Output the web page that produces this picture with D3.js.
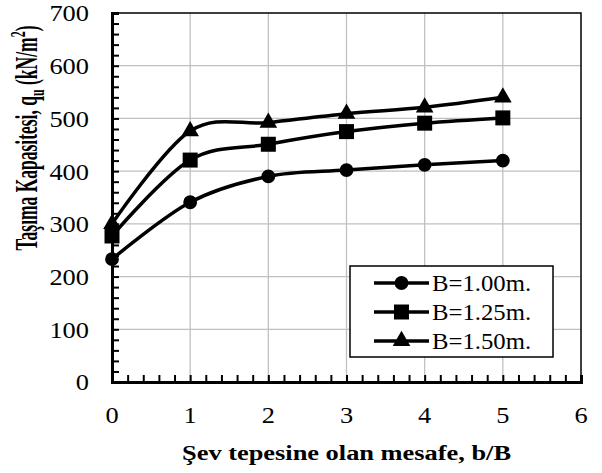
<!DOCTYPE html>
<html>
<head>
<meta charset="utf-8">
<script src="https://cdn.jsdelivr.net/npm/d3@7"></script>
<style>
  body { margin: 0; background: #fff; }
  svg { font-family: "Liberation Serif", "Times New Roman", serif; }
</style>
</head>
<body>
<script>
  // data
  var distances = [0, 1, 2, 3, 4, 5];
  var seriesNames = ["B=1.00m.", "B=1.25m.", "B=1.50m."];
  var b100 = [233, 341, 390, 402, 412, 420];
  var b125 = [277, 421, 451, 475, 491, 501];
  var b150 = [300, 476, 492, 509, 521, 540];
  var xTicks = [0, 1, 2, 3, 4, 5, 6];
  var yTicks = [0, 100, 200, 300, 400, 500, 600, 700];

  var series = [
    { name: seriesNames[0], values: b100, symbol: d3.symbolCircle, size: 150 },
    { name: seriesNames[1], values: b125, symbol: d3.symbolSquare, size: 225 },
    { name: seriesNames[2], values: b150, symbol: d3.symbolTriangle, size: 135 }
  ];

  var width = 602, height = 473;
  var margin = { top: 13, right: 21, bottom: 91, left: 112 };
  var plotW = width - margin.left - margin.right;
  var plotH = height - margin.top - margin.bottom;

  var x = d3.scaleLinear().domain([0, 6]).range([0, plotW]);
  var y = d3.scaleLinear().domain([0, 700]).range([plotH, 0]);

  var svg = d3.select("body").append("svg")
      .attr("width", width)
      .attr("height", height);

  var g = svg.append("g")
      .attr("transform", "translate(" + margin.left + "," + margin.top + ")");

  // gridlines
  g.append("g").selectAll("line").data(xTicks.slice(1, -1)).join("line")
      .attr("x1", d => x(d)).attr("x2", d => x(d))
      .attr("y1", 0).attr("y2", plotH)
      .attr("stroke", "#c0c0c0").attr("stroke-width", 1.3);
  g.append("g").selectAll("line").data(yTicks.slice(1, -1)).join("line")
      .attr("y1", d => y(d)).attr("y2", d => y(d))
      .attr("x1", 0).attr("x2", plotW)
      .attr("stroke", "#c0c0c0").attr("stroke-width", 1.3);

  // frame
  g.append("rect")
      .attr("width", plotW).attr("height", plotH)
      .attr("fill", "none").attr("stroke", "#000").attr("stroke-width", 1.5);

  // axes with inner minor ticks
  var xAxis = g.append("g")
      .attr("transform", "translate(0," + plotH + ")")
      .call(d3.axisTop(x).ticks(30).tickSize(7).tickFormat(""));
  var yAxis = g.append("g")
      .call(d3.axisRight(y).ticks(35).tickSize(7).tickFormat(""));
  [xAxis, yAxis].forEach(function (a) {
    a.select(".domain").attr("stroke-width", 3);
    a.selectAll(".tick line").attr("stroke-width", 2);
  });

  // tick labels (text in the picture is a bit wider than normal)
  g.append("g").selectAll("text").data(xTicks).join("text")
      .attr("transform", d => "translate(" + x(d) + "," + (plotH + 41) + ") scale(1.1,1)")
      .attr("text-anchor", "middle")
      .attr("font-size", 24)
      .text(d => d);
  g.append("g").selectAll("text").data(yTicks).join("text")
      .attr("transform", d => "translate(-23," + y(d) + ") scale(1.1,1)")
      .attr("dy", "0.35em")
      .attr("text-anchor", "end")
      .attr("font-size", 24)
      .text(d => d);

  // axis titles
  svg.append("text")
      .attr("transform", "translate(" + (margin.left + plotW / 2) + ",460) scale(1.2,1)")
      .attr("text-anchor", "middle")
      .attr("font-size", 22).attr("font-weight", "bold")
      .text("Şev tepesine olan mesafe, b/B");

  var yTitle = svg.append("text")
      .attr("transform", "translate(37,138) rotate(-90) scale(1,1.75)")
      .attr("text-anchor", "middle")
      .attr("font-size", 17.5).attr("font-weight", "bold");
  yTitle.append("tspan").text("Taşıma Kapasitesi, q");
  yTitle.append("tspan").attr("font-size", 12).attr("dy", 4).text("u");
  yTitle.append("tspan").attr("dy", -4).text(" (kN/m");
  yTitle.append("tspan").attr("font-size", 12).attr("dy", -7).text("2");
  yTitle.append("tspan").attr("dy", 7).text(")");

  // lines
  var line = d3.line()
      .x((d, i) => x(distances[i]))
      .y(d => y(d))
      .curve(d3.curveCatmullRom.alpha(0));

  g.append("g").selectAll("path").data(series).join("path")
      .attr("d", d => line(d.values))
      .attr("fill", "none")
      .attr("stroke", "#000")
      .attr("stroke-width", 3.5);

  series.forEach(function (s) {
    g.append("g").selectAll("path").data(s.values).join("path")
        .attr("transform", (d, i) => "translate(" + x(distances[i]) + "," + y(d) + ")")
        .attr("d", d3.symbol().type(s.symbol).size(s.size))
        .attr("fill", "#000");
  });

  // legend
  var legend = svg.append("g").attr("transform", "translate(350,266)");
  legend.append("rect")
      .attr("width", 203).attr("height", 91)
      .attr("fill", "#fff").attr("stroke", "#000").attr("stroke-width", 1.5);
  var rows = legend.selectAll("g.row").data(series).join("g")
      .attr("class", "row")
      .attr("transform", (d, i) => "translate(0," + (17 + i * 29) + ")");
  rows.append("line")
      .attr("x1", 24).attr("x2", 79)
      .attr("stroke", "#000").attr("stroke-width", 3.5);
  rows.append("path")
      .attr("transform", "translate(51.5,0)")
      .attr("d", d => d3.symbol().type(d.symbol).size(d.size)())
      .attr("fill", "#000");
  rows.append("text")
      .attr("transform", "translate(82,0) scale(1.03,1)")
      .attr("dy", "0.35em")
      .attr("font-size", 24)
      .text(d => d.name);
</script>
</body>
</html>
